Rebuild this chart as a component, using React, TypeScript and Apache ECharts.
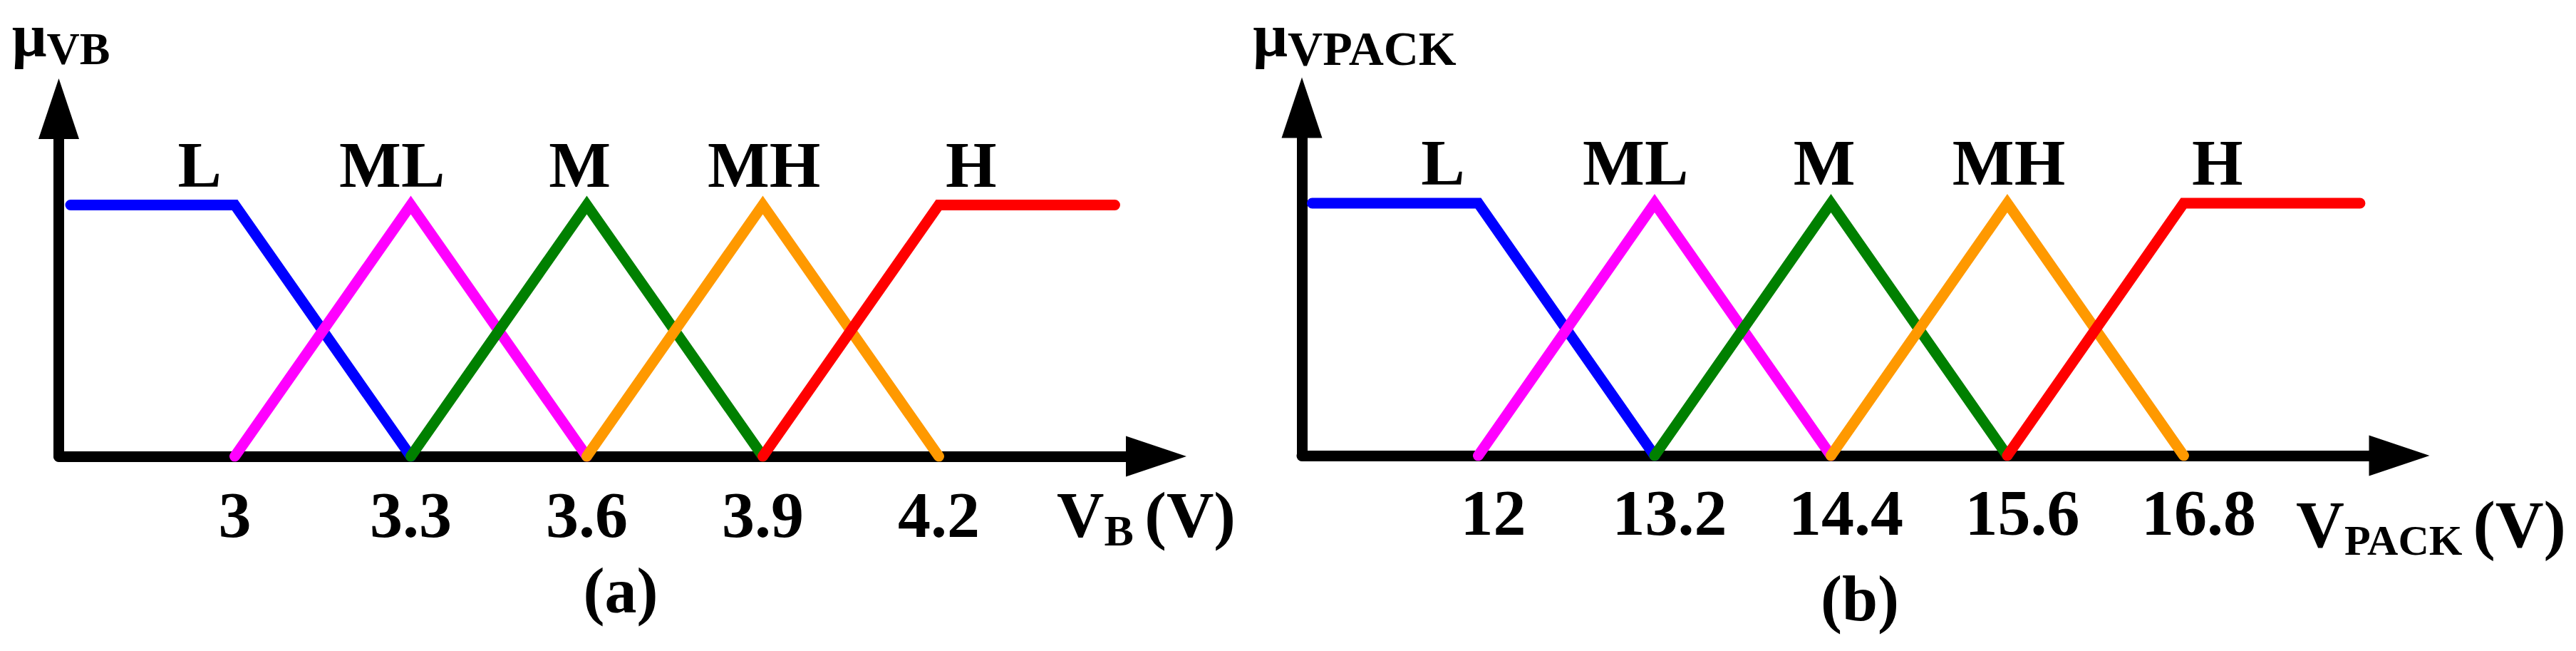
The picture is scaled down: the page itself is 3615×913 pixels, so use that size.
import React, { useEffect, useRef } from "react";
import * as echarts from "echarts";

// ---- data ----
const setNames = ["L", "ML", "M", "MH", "H"];
const setColors = ["#0000ff", "#ff00ff", "#008000", "#ff9900", "#ff0000"];

// (a) battery voltage V_B membership functions [x, mu]
const vbL = [[2.72, 1], [3.0, 1], [3.3, 0]];
const vbML = [[3.0, 0], [3.3, 1], [3.6, 0]];
const vbM = [[3.3, 0], [3.6, 1], [3.9, 0]];
const vbMH = [[3.6, 0], [3.9, 1], [4.2, 0]];
const vbH = [[3.9, 0], [4.2, 1], [4.5, 1]];
const vbTicks = [3, 3.3, 3.6, 3.9, 4.2];
const vbLabelX = [2.94, 3.268, 3.588, 3.902, 4.255];

// (b) pack voltage V_PACK membership functions [x, mu]
const vpL = [[10.87, 1], [12, 1], [13.2, 0]];
const vpML = [[12, 0], [13.2, 1], [14.4, 0]];
const vpM = [[13.2, 0], [14.4, 1], [15.6, 0]];
const vpMH = [[14.4, 0], [15.6, 1], [16.8, 0]];
const vpH = [[15.6, 0], [16.8, 1], [18, 1]];
const vpTicks = [12, 13.2, 14.4, 15.6, 16.8];
const vpLabelX = [11.76, 13.07, 14.355, 15.61, 17.03];

const labelLevel = 1.16;

const FONT = "'Liberation Serif', 'Times New Roman', serif";

export default function App() {
  const ref = useRef<HTMLDivElement>(null);

  useEffect(() => {
    if (!ref.current) return;
    const chart = echarts.init(ref.current, undefined, { renderer: "svg" });

    const vbSets = [vbL, vbML, vbM, vbMH, vbH];
    const vpSets = [vpL, vpML, vpM, vpMH, vpH];

    const lineSeries = (sets: number[][][], idx: number) =>
      sets.map((d, j) => ({
        type: "line",
        name: setNames[j],
        xAxisIndex: idx,
        yAxisIndex: idx,
        data: d,
        symbol: "none",
        silent: true,
        itemStyle: { color: setColors[j] },
        lineStyle: { color: setColors[j], width: 15, cap: "round", join: "miter", miterLimit: 10 },
        z: 2,
      }));

    const labelSeries = (xs: number[], idx: number) => ({
      type: "scatter",
      xAxisIndex: idx,
      yAxisIndex: idx,
      symbolSize: 0,
      silent: true,
      itemStyle: { color: "#000", opacity: 1 },
      data: xs.map((x, k) => ({ name: setNames[k], value: [x, labelLevel] })),
      label: {
        show: true,
        position: "inside",
        formatter: "{b}",
        fontSize: 92,
        fontFamily: FONT,
        fontWeight: "bold",
        color: "#000",
        opacity: 1,
        textBorderWidth: 0,
      },
      z: 3,
    });

    const axisLineStyle = { color: "#000", width: 15, cap: "round" };

    const xAxisBase = (min: number, max: number, ticks: number[], idx: number) => ({
      type: "value",
      gridIndex: idx,
      min,
      max,
      splitLine: { show: false },
      axisTick: { show: false },
      axisLine: {
        show: true,
        onZero: false,
        lineStyle: axisLineStyle,
        symbol: ["none", "triangle"],
        symbolSize: [57, 85],
      },
      axisLabel: {
        show: true,
        customValues: ticks,
        formatter: (v: number) => String(v),
        fontSize: 92,
        fontFamily: FONT,
        fontWeight: "bold",
        color: "#000",
        margin: idx === 0 ? 36 : 34,
        padding: idx === 0 ? [0, 0, 0, 0] : [0, 0, 0, 42],
      },
      nameLocation: "end",
      nameMoveOverlap: false,
    });

    const yAxisBase = (max: number, idx: number) => ({
      type: "value",
      gridIndex: idx,
      min: 0,
      max,
      splitLine: { show: false },
      axisTick: { show: false },
      axisLabel: { show: false },
      axisLine: {
        show: true,
        onZero: false,
        lineStyle: axisLineStyle,
        symbol: ["none", "triangle"],
        symbolSize: [57, 85],
      },
      nameLocation: "end",
      nameMoveOverlap: false,
    });

    const option: any = {
      animation: false,
      backgroundColor: "#fff",
      grid: [
        { left: 82.5, top: 152.5, width: 1540, height: 487.5, outerBoundsMode: "none", containLabel: false },
        { left: 1827, top: 151, width: 1540, height: 488, outerBoundsMode: "none", containLabel: false },
      ],
      xAxis: [
        {
          ...xAxisBase(2.7, 4.5705, vbTicks, 0),
          name: "{m|V}{s|B }{m|(V)}",
          nameGap: -139.5,
          nameTextStyle: {
            align: "left",
            verticalAlign: "top",
            padding: [36, 0, 0, 0],
            color: "#000",
            fontFamily: FONT,
            fontWeight: "bold",
            rich: {
              m: { fontSize: 92, fontFamily: FONT, fontWeight: "bold", color: "#000", verticalAlign: "bottom", padding: [0, 0, 7, 0] },
              s: { fontSize: 62, fontFamily: FONT, fontWeight: "bold", color: "#000", verticalAlign: "bottom" },
            },
          },
        },
        {
          ...xAxisBase(10.8, 18.267, vpTicks, 1),
          name: "{m|V}{s|PACK }{m|(V)}",
          nameGap: -145,
          nameTextStyle: {
            align: "left",
            verticalAlign: "top",
            padding: [49, 0, 0, 0],
            color: "#000",
            fontFamily: FONT,
            fontWeight: "bold",
            rich: {
              m: { fontSize: 94, fontFamily: FONT, fontWeight: "bold", color: "#000", verticalAlign: "bottom", padding: [0, 0, 6, 0] },
              s: { fontSize: 60, fontFamily: FONT, fontWeight: "bold", color: "#000", verticalAlign: "bottom" },
            },
          },
        },
      ],
      yAxis: [
        {
          ...yAxisBase(1.383, 0),
          name: "{mu|μ}{s|VB}",
          nameGap: 52,
          nameTextStyle: {
            align: "center",
            verticalAlign: "bottom",
            padding: [0, 0, 0, 6],
            color: "#000",
            fontFamily: FONT,
            fontWeight: "bold",
            rich: {
              mu: { fontSize: 86, fontFamily: FONT, fontWeight: "bold", color: "#000", verticalAlign: "bottom", padding: [0, 0, 9, 0] },
              s: { fontSize: 64, fontFamily: FONT, fontWeight: "bold", color: "#000", verticalAlign: "bottom" },
            },
          },
        },
        {
          ...yAxisBase(1.3785, 1),
          name: "{mu|μ}{s|VPACK}",
          nameGap: 49,
          nameTextStyle: {
            align: "center",
            verticalAlign: "bottom",
            padding: [0, 0, 0, 148],
            color: "#000",
            fontFamily: FONT,
            fontWeight: "bold",
            rich: {
              mu: { fontSize: 86, fontFamily: FONT, fontWeight: "bold", color: "#000", verticalAlign: "bottom", padding: [0, 0, 10, 0] },
              s: { fontSize: 68, fontFamily: FONT, fontWeight: "bold", color: "#000", verticalAlign: "bottom" },
            },
          },
        },
      ],
      graphic: [
        {
          type: "text",
          x: 871,
          y: 828,
          style: { text: "(a)", fontSize: 90, fontFamily: FONT, fontWeight: "bold", fill: "#000", align: "center", verticalAlign: "middle" },
        },
        {
          type: "text",
          x: 2610,
          y: 839,
          style: { text: "(b)", fontSize: 90, fontFamily: FONT, fontWeight: "bold", fill: "#000", align: "center", verticalAlign: "middle" },
        },
      ],
      series: [
        ...lineSeries(vbSets, 0),
        ...lineSeries(vpSets, 1),
        labelSeries(vbLabelX, 0),
        labelSeries(vpLabelX, 1),
      ],
    };

    chart.setOption(option);
    return () => chart.dispose();
  }, []);

  return (
    <div
      ref={ref}
      style={{ position: "fixed", left: 0, top: 0, width: 3615, height: 913, background: "#fff" }}
    />
  );
}
